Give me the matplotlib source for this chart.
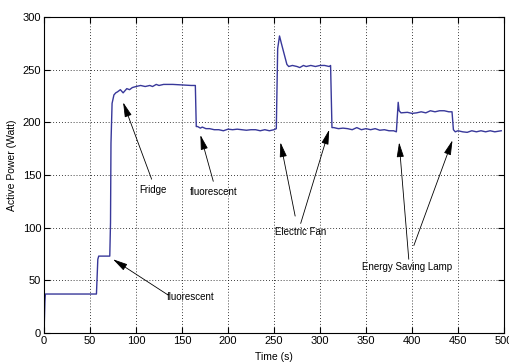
import matplotlib
matplotlib.use("Agg")
import matplotlib.pyplot as plt
from matplotlib import font_manager

names = {f.name for f in font_manager.fontManager.ttflist}
narrow = "Liberation Sans Narrow" if "Liberation Sans Narrow" in names else "Liberation Sans"

# Time (s) and active power (W)
time_s = [0, 1, 1.5, 57, 58.5, 59.5, 71.5, 72.3, 72.8, 74, 76, 78, 80, 83, 86, 90, 93,
          96, 100, 105, 110, 115, 118, 122, 125, 130, 140, 150, 160, 164.5, 165.5, 167,
          170, 172, 176, 180, 185, 190, 195, 200, 205, 210, 215, 220, 225, 230, 235, 240,
          245, 250, 252.5, 254, 256, 258, 261, 264, 266, 270, 275, 278, 282, 285, 290,
          295, 300, 305, 310, 311.5, 313, 315, 320, 325, 330, 335, 340, 345, 350, 355,
          360, 365, 370, 375, 380, 383, 384, 385, 386, 388, 395, 400, 405, 410, 415, 420,
          425, 430, 435, 440, 443.5, 445, 447, 450, 455, 460, 465, 470, 475, 480, 485,
          490, 497]
power_w = [0, 30, 37, 37, 70, 73, 73, 105, 180, 218, 226, 228, 229, 231, 228, 232, 231,
           233, 234, 235, 234, 235, 234, 236, 235, 236, 236, 235.5, 235, 235, 196, 196,
           194.5, 195.5, 194, 194, 193, 193, 192, 193.5, 193, 193.5, 193, 192.5, 193, 193,
           192, 193, 192, 193, 194, 270, 282, 275, 265, 255, 253, 254, 253, 252, 254, 253,
           254, 253, 254, 254, 253, 254, 195, 195, 194, 194.5, 194, 193, 195, 193, 194,
           193, 194, 192.5, 193, 192, 192, 191, 205, 219, 211, 209, 209.5, 208.5, 209,
           210, 209, 211, 210, 211, 211, 210, 210, 193, 191, 192, 191, 190.5, 192, 191,
           192, 191, 192, 191, 192]

x_ticks = [0, 50, 100, 150, 200, 250, 300, 350, 400, 450, 500]
y_ticks = [0, 50, 100, 150, 200, 250, 300]

fig = plt.figure(figsize=(5.10, 3.62), dpi=100)
ax = fig.add_axes([44/510, 1-333/362, 460/510, 316/362])
ax.plot(time_s, power_w, color="#38389a", lw=1.0)
ax.set_xlim(0, 500)
ax.set_ylim(0, 300)
ax.set_xticks(x_ticks)
ax.set_yticks(y_ticks)
ax.grid(True, color="black", linestyle=(0, (1, 2.5)), lw=0.6)
ax.tick_params(direction="in", top=True, right=True, length=4, width=0.8,
               labelsize=8, pad=2)
for lab in ax.get_xticklabels() + ax.get_yticklabels():
    lab.set_fontfamily(narrow)
for s in ax.spines.values():
    s.set_linewidth(0.8)

fig.text(274/510, 1-357/362, "Time (s)", ha="center", va="center", fontsize=7.5,
         family="Liberation Sans")
fig.text(12/510, 1-165/362, "Active Power (Watt)", ha="center", va="center",
         rotation=90, fontsize=7.5, family="Liberation Sans")

ap = dict(arrowstyle="-|>,head_length=0.9,head_width=0.22", color="black", lw=0.6,
          shrinkA=0, shrinkB=0)
tkw = dict(fontsize=7, family=narrow)

ax.text(118, 136, "Fridge", ha="center", va="center", **tkw)
ax.annotate("", xy=(86, 219), xytext=(117, 146), arrowprops=ap)

ax.text(184, 134, "fluorescent", ha="center", va="center", **tkw)
ax.annotate("", xy=(170, 188), xytext=(184, 144), arrowprops=ap)

ax.text(134, 34, "fluorescent", ha="left", va="center", **tkw)
ax.annotate("", xy=(75, 70), xytext=(135, 36), arrowprops=ap)

ax.text(279, 96, "Electric Fan", ha="center", va="center", **tkw)
ax.annotate("", xy=(257, 181), xytext=(273, 111), arrowprops=ap)
ax.annotate("", xy=(310, 193), xytext=(279, 104), arrowprops=ap)

ax.text(395, 63, "Energy Saving Lamp", ha="center", va="center", **tkw)
ax.annotate("", xy=(386, 181), xytext=(396.5, 70), arrowprops=ap)
ax.annotate("", xy=(444, 183), xytext=(402, 83), arrowprops=ap)

fig.savefig("out.png", dpi=100)
